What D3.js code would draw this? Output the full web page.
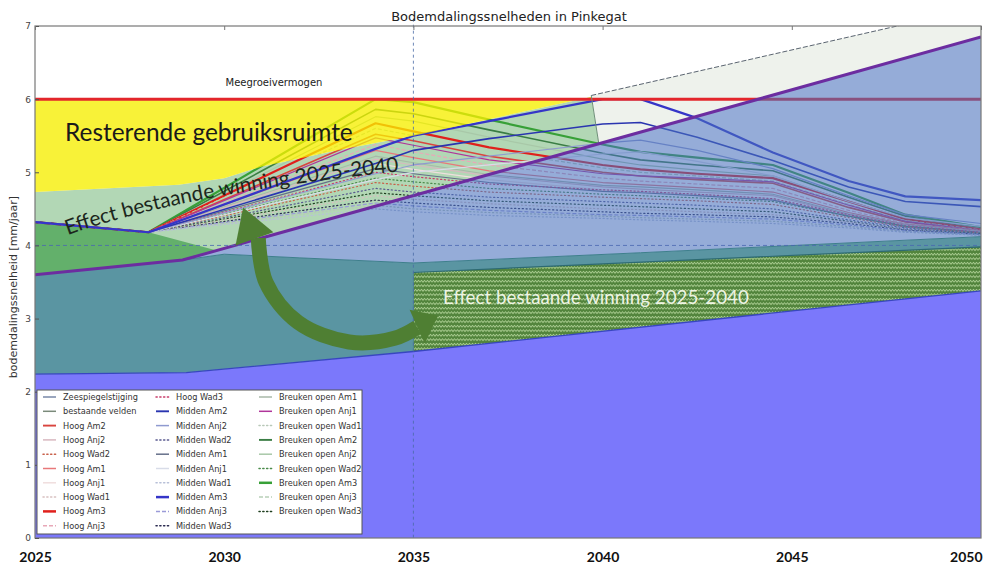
<!DOCTYPE html>
<html>
<head>
<meta charset="utf-8">
<script src="https://cdn.jsdelivr.net/npm/d3@7"></script>
<style>
  body { margin: 0; background: #fff; }
  svg { display: block; font-family: "DejaVu Sans", sans-serif; }
</style>
</head>
<body>
<svg id="chart" width="984" height="566"></svg>
<script>
// ---- data ----
const years = [2025, 2028, 2031, 2034, 2035, 2037, 2040, 2041, 2042.5, 2044.5, 2046.5, 2048, 2050];

const curveNames = [
  "Breuken open Am3", "Breuken open Am2", "Breuken open Anj2", "Hoog Am3", "Breuken open Anj3",
  "Hoog Am2", "Breuken open Anj1", "Hoog Anj3", "Hoog Am1", "Breuken open Am1", "Hoog Anj2",
  "Hoog Anj1", "Midden Am1", "Hoog Wad3", "Breuken open Wad2", "Hoog Wad2", "Midden Wad2",
  "Breuken open Wad3", "Hoog Wad1", "Midden Wad3", "Midden Anj3", "Breuken open Wad1",
  "Midden Wad1", "Midden Anj1", "Midden Anj2", "Midden Am2", "Midden Am3"
];
const curveValues = [
  [4.32, 4.18, 5.09, 6.00, 5.96, 5.72, 5.38, 5.28, 5.20, 5.10, 4.72, 4.42, 4.25],
  [4.32, 4.18, 5.02, 5.86, 5.80, 5.58, 5.26, 5.17, 5.10, 5.02, 4.66, 4.40, 4.22],
  [4.32, 4.18, 4.97, 5.76, 5.70, 5.48, 5.18, 5.10, 5.03, 4.95, 4.60, 4.37, 4.22],
  [4.32, 4.18, 4.93, 5.67, 5.56, 5.34, 5.10, 5.04, 4.98, 4.92, 4.60, 4.36, 4.22],
  [4.32, 4.18, 4.89, 5.60, 5.50, 5.30, 5.06, 5.00, 4.95, 4.88, 4.56, 4.34, 4.21],
  [4.32, 4.18, 4.85, 5.52, 5.43, 5.22, 5.00, 4.95, 4.90, 4.85, 4.52, 4.32, 4.20],
  [4.32, 4.18, 4.83, 5.47, 5.37, 5.17, 4.98, 4.95, 4.92, 4.87, 4.55, 4.33, 4.20],
  [4.32, 4.18, 4.78, 5.38, 5.28, 5.10, 4.92, 4.88, 4.84, 4.78, 4.48, 4.30, 4.20],
  [4.32, 4.18, 4.74, 5.30, 5.20, 5.02, 4.86, 4.83, 4.79, 4.73, 4.45, 4.29, 4.20],
  [4.32, 4.18, 4.70, 5.22, 5.13, 4.97, 4.82, 4.80, 4.76, 4.70, 4.43, 4.28, 4.19],
  [4.32, 4.18, 4.68, 5.18, 5.10, 4.95, 4.80, 4.77, 4.73, 4.68, 4.42, 4.27, 4.19],
  [4.32, 4.18, 4.65, 5.12, 5.04, 4.90, 4.76, 4.74, 4.70, 4.64, 4.40, 4.26, 4.18],
  [4.32, 4.18, 4.62, 5.05, 4.98, 4.86, 4.74, 4.72, 4.68, 4.62, 4.40, 4.26, 4.18],
  [4.32, 4.18, 4.59, 5.00, 4.94, 4.84, 4.76, 4.74, 4.70, 4.64, 4.42, 4.27, 4.18],
  [4.32, 4.18, 4.55, 4.92, 4.87, 4.78, 4.70, 4.68, 4.65, 4.60, 4.40, 4.26, 4.17],
  [4.32, 4.18, 4.52, 4.86, 4.81, 4.73, 4.66, 4.64, 4.61, 4.56, 4.38, 4.25, 4.17],
  [4.32, 4.18, 4.48, 4.78, 4.73, 4.66, 4.60, 4.58, 4.55, 4.50, 4.35, 4.24, 4.16],
  [4.32, 4.18, 4.45, 4.72, 4.68, 4.61, 4.55, 4.53, 4.50, 4.46, 4.33, 4.22, 4.16],
  [4.32, 4.18, 4.43, 4.68, 4.63, 4.57, 4.50, 4.49, 4.46, 4.42, 4.32, 4.22, 4.15],
  [4.32, 4.18, 4.40, 4.62, 4.58, 4.52, 4.46, 4.44, 4.42, 4.39, 4.30, 4.21, 4.15],
  [4.32, 4.18, 4.38, 4.58, 4.54, 4.48, 4.42, 4.41, 4.39, 4.36, 4.28, 4.20, 4.15],
  [4.32, 4.18, 4.36, 4.55, 4.50, 4.45, 4.40, 4.38, 4.36, 4.33, 4.26, 4.19, 4.14],
  [4.32, 4.18, 4.34, 4.50, 4.46, 4.41, 4.37, 4.35, 4.33, 4.30, 4.24, 4.18, 4.14],
  [4.32, 4.18, 4.54, 4.90, 5.00, 5.10, 5.25, 5.28, 5.15, 4.95, 4.60, 4.38, 4.26],
  [4.32, 4.18, 4.58, 4.98, 5.10, 5.22, 5.40, 5.44, 5.30, 5.05, 4.68, 4.42, 4.30],
  [4.32, 4.18, 4.65, 5.12, 5.30, 5.46, 5.66, 5.68, 5.48, 5.16, 4.80, 4.60, 4.53],
  [4.32, 4.18, 4.75, 5.32, 5.50, 5.70, 6.00, 6.00, 5.74, 5.27, 4.88, 4.67, 4.62]
];

// zeespiegelstijging (top of the blue base)
const seaYears = [2025, 2029, 2035, 2050];
const seaValues = [2.24, 2.26, 2.55, 3.38];
// bestaande velden (top of the teal band)
const fieldYears = [2025, 2028.9, 2030, 2032, 2035, 2041, 2050];
const fieldValues = [3.6, 3.8, 3.88, 3.83, 3.76, 3.9, 4.12];
// thick purple line
const purpleYears = [2025, 2028.9, 2050];
const purpleValues = [3.6, 3.8, 6.85];
// lower edge of the yellow "resterende gebruiksruimte"
const roomYears = [2025, 2028.8, 2030, 2031, 2033, 2035, 2039.7];
const roomValues = [4.73, 4.83, 4.92, 5.08, 5.3, 5.5, 6.03];
// medium green wedge on the left
const greenYears = [2025, 2028, 2029.8];
const greenValues = [4.32, 4.18, 3.93];
// hatched "effect" band 2035-2050 (top edge)
const hatchYears = [2035, 2050];
const hatchValues = [3.63, 3.98];
// thin dashed rising line
const riseYears = [2039.7, 2050];
const riseValues = [6.05, 7.26];
const meegroei = 6.0;

const legendNames = [
  "Zeespiegelstijging", "bestaande velden", "Hoog Am2", "Hoog Anj2", "Hoog Wad2", "Hoog Am1",
  "Hoog Anj1", "Hoog Wad1", "Hoog Am3", "Hoog Anj3",
  "Hoog Wad3", "Midden Am2", "Midden Anj2", "Midden Wad2", "Midden Am1", "Midden Anj1",
  "Midden Wad1", "Midden Am3", "Midden Anj3", "Midden Wad3",
  "Breuken open Am1", "Breuken open Anj1", "Breuken open Wad1", "Breuken open Am2",
  "Breuken open Anj2", "Breuken open Wad2", "Breuken open Am3", "Breuken open Anj3", "Breuken open Wad3"
];
const xTicks = [2025, 2030, 2035, 2040, 2045, 2050];
const yTicks = [0, 1, 2, 3, 4, 5, 6, 7];

// ---- styles ----
const lineColor = {
  "Zeespiegelstijging": "#7888a8", "bestaande velden": "#7a8a7a",
  "Hoog Am1": "#e8787a", "Hoog Am2": "#d9453f", "Hoog Am3": "#e0201c",
  "Hoog Anj1": "#f0dede", "Hoog Anj2": "#d8b8c0", "Hoog Anj3": "#e8a8b8",
  "Hoog Wad1": "#d8c0c0", "Hoog Wad2": "#c8604a", "Hoog Wad3": "#c83c6a",
  "Midden Am1": "#66708a", "Midden Am2": "#2a35b0", "Midden Am3": "#3535c8",
  "Midden Anj1": "#d8dce8", "Midden Anj2": "#8f9ad0", "Midden Anj3": "#9a9ad8",
  "Midden Wad1": "#b8c0d8", "Midden Wad2": "#5a5a90", "Midden Wad3": "#2a2a50",
  "Breuken open Am1": "#a8b8a8", "Breuken open Am2": "#3a7d44", "Breuken open Am3": "#37a037",
  "Breuken open Anj1": "#b0359a", "Breuken open Anj2": "#a8c8a8", "Breuken open Anj3": "#b8d0b8",
  "Breuken open Wad1": "#b8c8b8", "Breuken open Wad2": "#4a8a4a", "Breuken open Wad3": "#1f3f1f"
};
function lineWidth(name) { return /Am3$/.test(name) ? 2.2 : (/Am2$/.test(name) ? 1.6 : 1.2); }
function lineDash(name) {
  if (/Wad/.test(name)) return "1.2,2.6";
  if (/Anj3$/.test(name)) return "4,2";
  return null;
}

const svg = d3.select("#chart");
const x = d3.scaleLinear().domain([2025, 2050]).range([35, 981]);
const y = d3.scaleLinear().domain([0, 7]).range([538, 26]);

const zip = (xs, vs) => xs.map((d, i) => [d, vs[i]]);
function valueAt(xs, vs, yr) { // reading a value on a drawn polyline
  for (let i = 1; i < xs.length; i++) {
    if (yr <= xs[i]) return vs[i - 1] + (vs[i] - vs[i - 1]) * (yr - xs[i - 1]) / (xs[i] - xs[i - 1]);
  }
  return vs[vs.length - 1];
}
const lin = d3.line().x(d => x(d[0])).y(d => y(d[1]));
function poly(top, bottom) { return lin(top.concat(bottom.slice().reverse())) + "Z"; }

const sea = zip(seaYears, seaValues);
const field = zip(fieldYears, fieldValues);
const purple = zip(purpleYears, purpleValues);
const edgeYr = 2039.9;
const purpleAtEdge = valueAt(purpleYears, purpleValues, edgeYr);

// ---- defs ----
const defs = svg.append("defs");
defs.append("clipPath").attr("id", "plot")
  .append("rect").attr("x", x(2025)).attr("y", y(7)).attr("width", x(2050) - x(2025)).attr("height", y(0) - y(7));
const pat = defs.append("pattern").attr("id", "zig")
  .attr("width", 6).attr("height", 4.5).attr("patternUnits", "userSpaceOnUse");
pat.append("rect").attr("width", 6).attr("height", 4.5).attr("fill", "#52843c");
pat.append("path").attr("d", "M0,3.2 L1.5,1.2 L3,3.2 L4.5,1.2 L6,3.2")
  .attr("fill", "none").attr("stroke", "#c4e2aa").attr("stroke-width", 0.9);

const g = svg.append("g").attr("clip-path", "url(#plot)");

// base and bands
g.append("rect").attr("x", x(2025)).attr("y", y(7)).attr("width", x(2050) - x(2025)).attr("height", y(0) - y(7)).attr("fill", "#fff");
g.append("path").attr("d", poly(sea, [[2025, 0], [2050, 0]])).attr("fill", "#7b78fb");
g.append("path").attr("d", poly(field, sea)).attr("fill", "#5a95a2");

// light green effect region between yellow edge and purple line
const roomEdge = zip(roomYears, roomValues);
g.append("path")
  .attr("d", poly(roomEdge.concat([[edgeYr, purpleAtEdge]]), purple.filter(d => d[0] < edgeYr).concat([[edgeYr, purpleAtEdge]])))
  .attr("fill", "#b2d7b5");
// medium green wedge
const greenTop = zip(greenYears, greenValues);
g.append("path")
  .attr("d", poly(greenTop, [[2025, purpleValues[0]], [2028.9, 3.8], [2029.8, greenValues[2]]]))
  .attr("fill", "#63b06b");
// light grey wedge above the purple line
const rise = zip(riseYears, riseValues);
g.append("path")
  .attr("d", poly(rise, [[edgeYr, purpleAtEdge], [2050, purpleValues[2]]]))
  .attr("fill", "#eef2ec");

// scenario curves
curveNames.forEach((name, i) => {
  g.append("path")
    .attr("d", lin(zip(years, curveValues[i])))
    .attr("fill", "none")
    .attr("stroke", lineColor[name])
    .attr("stroke-width", lineWidth(name))
    .attr("stroke-dasharray", lineDash(name))
    .attr("stroke-linejoin", "round")
    .attr("stroke-linecap", /Wad/.test(name) ? "round" : "butt");
});

// yellow remaining room
g.append("path")
  .attr("d", poly([[2025, meegroei], [roomYears[roomYears.length - 1], meegroei]], roomEdge))
  .attr("fill", "#f6ee00").attr("fill-opacity", 0.78);

// meegroeivermogen line
g.append("path").attr("d", lin([[2025, meegroei], [2050, meegroei]]))
  .attr("stroke", "#e3262b").attr("stroke-width", 3).attr("fill", "none");

// blue translucent region under the purple line
g.append("path")
  .attr("d", poly(purple.slice(1), field.filter(d => d[0] >= 2028.9)))
  .attr("fill", "#4870bb").attr("fill-opacity", 0.58);

// hatched effect band
const hatchTop = zip(hatchYears, hatchValues);
const seaRight = [[2035, seaValues[2]], [2050, seaValues[3]]];
g.append("path").attr("d", poly(hatchTop, seaRight)).attr("fill", "url(#zig)");
g.append("path").attr("d", lin(hatchTop)).attr("stroke", "#2d6a72").attr("stroke-width", 1.2).attr("fill", "none");
g.append("path").attr("d", lin([[2035, hatchValues[0]], [2035, seaValues[2]]])).attr("stroke", "#4f8a8a").attr("stroke-width", 1);

// thin edge lines
g.append("path").attr("d", lin(sea)).attr("stroke", "#3846c0").attr("stroke-width", 1.3).attr("fill", "none");
g.append("path").attr("d", lin(field)).attr("stroke", "#3e7f8c").attr("stroke-width", 1).attr("fill", "none");
g.append("path").attr("d", lin([[riseYears[0], riseValues[0]], [edgeYr, purpleAtEdge]])).attr("stroke", "#6e8f78").attr("stroke-width", 1).attr("fill", "none");
g.append("path").attr("d", lin(rise)).attr("stroke", "#5a6470").attr("stroke-width", 1).attr("stroke-dasharray", "5,2").attr("fill", "none");

// purple line
g.append("path").attr("d", lin(purple)).attr("stroke", "#6c2da0").attr("stroke-width", 3).attr("fill", "none");

// dashed guide lines
g.append("path").attr("d", lin([[2025, 4], [2050, 4]])).attr("stroke", "#4a68b0").attr("stroke-width", 1).attr("stroke-dasharray", "4,3").attr("fill", "none").attr("opacity", 0.8);
svg.append("path").attr("d", lin([[2035, 7.1], [2035, 0]])).attr("stroke", "#4a6aa6").attr("stroke-width", 1).attr("stroke-dasharray", "3,3").attr("fill", "none").attr("opacity", 0.8);

// frame and ticks
svg.append("rect").attr("x", x(2025)).attr("y", y(7)).attr("width", x(2050) - x(2025)).attr("height", y(0) - y(7))
  .attr("fill", "none").attr("stroke", "#777").attr("stroke-width", 1.2);
const yAxis = d3.axisLeft(y).tickValues(yTicks).tickSize(-4).tickPadding(4).tickFormat(d3.format("d"));
svg.append("g").attr("transform", `translate(${x(2025)},0)`).call(yAxis)
  .call(s => s.select(".domain").remove())
  .call(s => s.selectAll("text").attr("font-size", 9).attr("fill", "#444").attr("font-family", "DejaVu Sans"))
  .call(s => s.selectAll("line").attr("stroke", "#555"));
svg.append("g").attr("transform", `translate(0,${y(7)})`)
  .call(d3.axisTop(x).tickValues(xTicks).tickSize(-4).tickFormat(""))
  .call(s => s.select(".domain").remove())
  .call(s => s.selectAll("line").attr("stroke", "#777"));
svg.append("g").attr("transform", `translate(0,${y(0)})`)
  .call(d3.axisBottom(x).tickValues(xTicks).tickSize(0).tickPadding(14).tickFormat(d3.format("d")))
  .call(s => s.select(".domain").remove())
  .call(s => s.selectAll("text").attr("font-size", 14).attr("font-weight", "bold")
    .attr("font-family", "Lato, 'Open Sans', sans-serif").attr("fill", "#111")
    .attr("text-anchor", d => d === 2050 ? "end" : "middle")
    .attr("dx", d => d === 2050 ? 1 : 0));

// titles
svg.append("text").attr("x", 509).attr("y", 21).attr("text-anchor", "middle")
  .attr("font-size", 13).attr("fill", "#222").text("Bodemdalingssnelheden in Pinkegat");
svg.append("text").attr("transform", "translate(17,287) rotate(-90)").attr("text-anchor", "middle")
  .attr("font-size", 11).attr("fill", "#333").text("bodemdalingssnelheid [mm/jaar]");
svg.append("text").attr("x", 274).attr("y", y(6.18)).attr("text-anchor", "middle")
  .attr("font-size", 10).attr("fill", "#222").text("Meegroeivermogen");

function fit(sel, target) {
  const w = sel.node().getComputedTextLength();
  sel.attr("font-size", parseFloat(sel.attr("font-size")) * target / w);
}
fit(svg.append("text").attr("x", 65).attr("y", 141).attr("font-size", 20)
  .attr("font-family", "Lato, 'Open Sans', sans-serif").attr("fill", "#1a1a1a")
  .text("Resterende gebruiksruimte"), 288);

// curved label along the effect region
defs.append("path").attr("id", "arc").attr("d", "M68,235 Q185,193 404,171");
const arcText = svg.append("text").attr("font-size", 21)
  .attr("font-family", "Lato, 'Open Sans', sans-serif").attr("fill", "#1c261c");
arcText.append("textPath").attr("href", "#arc").text("Effect bestaande winning 2025-2040");
fit(arcText, 338);

fit(svg.append("text").attr("x", 443).attr("y", 304).attr("font-size", 17)
  .attr("font-family", "Lato, 'Open Sans', sans-serif").attr("fill", "#eef4e4")
  .text("Effect bestaande winning 2025-2040"), 306);

// green curved arrow (annotation)
const arrowBody = [[2030.9, 4.10], [2031.1, 3.50], [2031.95, 2.95], [2033.3, 2.68], [2034.5, 2.73], [2035.1, 2.88]];
svg.append("path").attr("d", d3.line().x(d => x(d[0])).y(d => y(d[1])).curve(d3.curveCatmullRom)(arrowBody))
  .attr("fill", "none").attr("stroke", "#4f7f33").attr("stroke-width", 15);
svg.append("path").attr("d", lin([[2030.5, 4.52], [2031.3, 4.18], [2030.3, 4.0]]) + "Z").attr("fill", "#4f7f33");
svg.append("path").attr("d", lin([[2035.65, 3.04], [2034.9, 3.12], [2035.3, 2.66]]) + "Z").attr("fill", "#4f7f33");

// legend
const leg = svg.append("g");
leg.append("rect").attr("x", 37).attr("y", 390).attr("width", 325).attr("height", 144)
  .attr("fill", "#fff").attr("stroke", "#555").attr("stroke-width", 1);
const colX = [43, 156, 259];
legendNames.forEach((name, i) => {
  const c = Math.floor(i / 10), r = i % 10;
  const yy = 397 + r * 14.3;
  leg.append("line").attr("x1", colX[c]).attr("x2", colX[c] + 13).attr("y1", yy).attr("y2", yy)
    .attr("stroke", lineColor[name]).attr("stroke-width", lineWidth(name) + 0.3)
    .attr("stroke-dasharray", lineDash(name))
    .attr("stroke-linecap", /Wad/.test(name) ? "round" : "butt");
  leg.append("text").attr("x", colX[c] + 20).attr("y", yy + 3).attr("font-size", 8.2)
    .attr("fill", "#333").text(name);
});
</script>
</body>
</html>
